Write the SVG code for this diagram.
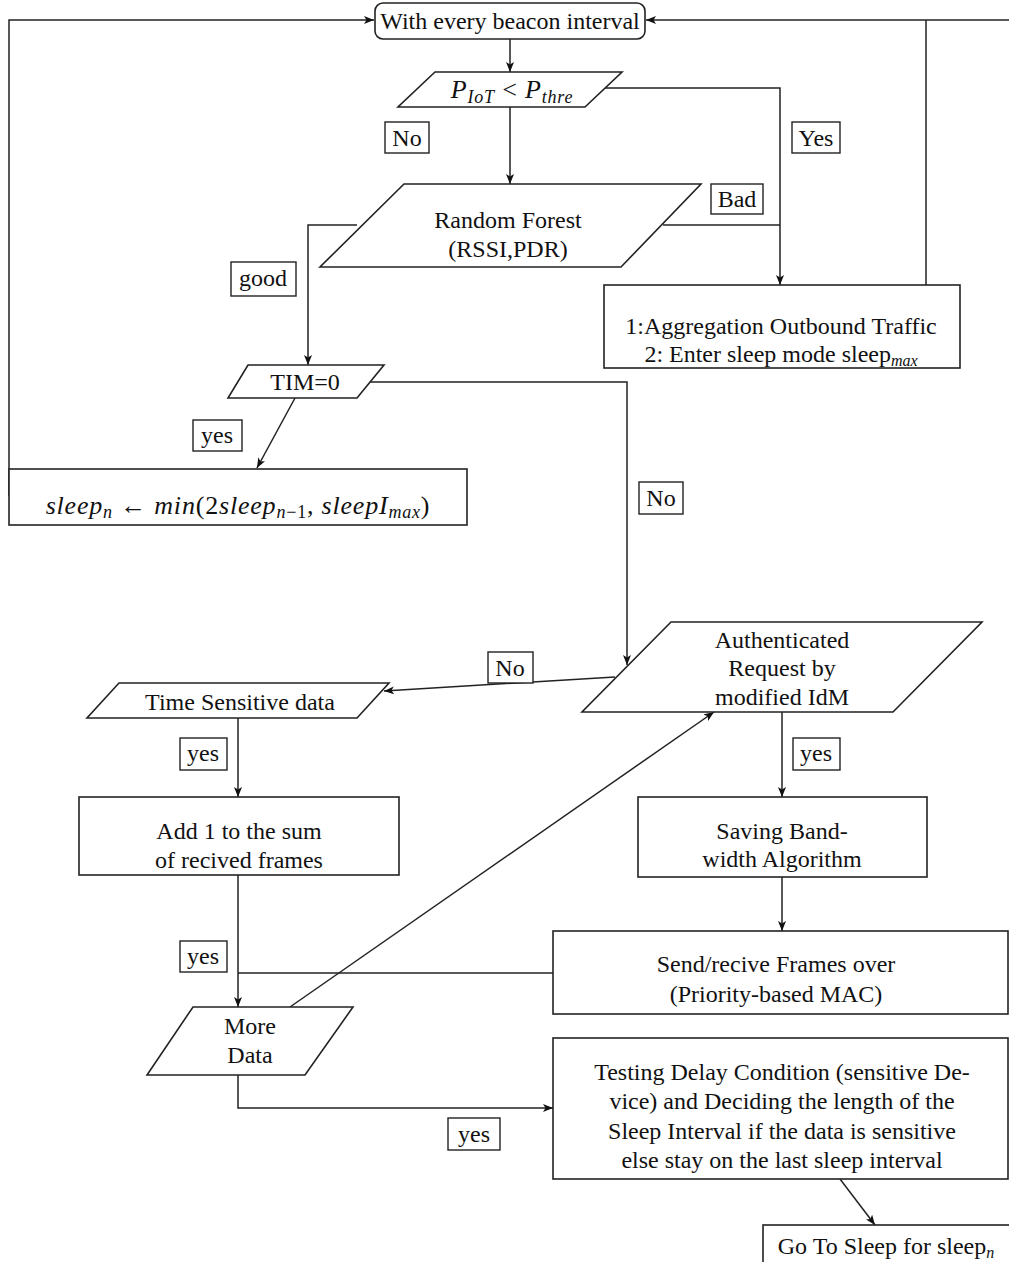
<svg xmlns="http://www.w3.org/2000/svg" width="1009" height="1262" viewBox="0 0 1009 1262">
<defs>
<marker id="ah" markerWidth="10" markerHeight="8" refX="10" refY="4" orient="auto" markerUnits="userSpaceOnUse">
<path d="M0,0 L10,4 L0,8 L2.5,4 Z" fill="#111"/>
</marker>
<style>
.n{fill:#fff;stroke:#222;stroke-width:1.6}
.c{fill:none;stroke:#222;stroke-width:1.5}
.a{marker-end:url(#ah)}
text{font-family:"Liberation Serif","Times New Roman",serif;font-size:24px;fill:#111;text-anchor:middle}
.lb{fill:#fff;stroke:#222;stroke-width:1.4}
.i{font-style:italic}
.s{font-size:16px}
.m{font-size:26px;letter-spacing:0.8px}
.ms{font-size:18px}
</style>
</defs>
<rect width="1009" height="1262" fill="#fff"/>
<g id="connectors">
<path class="c a" d="M510,39 L510,72"/>
<path class="c a" d="M605,88 L780,88 L780,285"/>
<path class="c a" d="M510,107 L510,184"/>
<path class="c a" d="M357,225 L308,225 L308,365"/>
<path class="c" d="M663,225 L780,225"/>
<path class="c" d="M926,285 L926,20"/>
<path class="c a" d="M1009,20 L646,20"/>
<path class="c a" d="M370,382 L627,382 L627,665"/>
<path class="c a" d="M295,398 L257,468"/>
<path class="c a" d="M9,496 L9,20 L374,20"/>
<path class="c a" d="M615,677 L384,691"/>
<path class="c a" d="M238,718 L238,797"/>
<path class="c a" d="M782,712 L782,797"/>
<path class="c a" d="M238,875 L238,1007"/>
<path class="c a" d="M782,877 L782,931"/>
<path class="c" d="M553,973 L238,973"/>
<path class="c a" d="M290,1007 L714,712"/>
<path class="c a" d="M238,1075 L238,1108 L553,1108"/>
<path class="c a" d="M840,1179 L875,1225"/>
</g>
<g id="start">
<rect class="n" x="375" y="3" width="270" height="36" rx="8"/>
<text x="510" y="29">With every beacon interval</text>
</g>
<g id="piot">
<polygon class="n" points="435,72 622,72 585,107 398,107"/>
<text x="512" y="98" class="m"><tspan class="i">P</tspan><tspan class="i ms" dy="5">IoT</tspan><tspan dy="-5"> &lt; </tspan><tspan class="i">P</tspan><tspan class="i ms" dy="5">thre</tspan></text>
</g>
<g id="rf">
<polygon class="n" points="404,184 701,184 621,267 320,267"/>
<text x="508" y="228">Random Forest</text>
<text x="508" y="257">(RSSI,PDR)</text>
</g>
<g id="agg">
<rect class="n" x="604" y="285" width="356" height="83"/>
<text x="781" y="334">1:Aggregation Outbound Traffic</text>
<text x="781" y="362">2:  Enter sleep mode sleep<tspan class="i s" dy="4">max</tspan></text>
</g>
<g id="tim">
<polygon class="n" points="248,365 384,365 357,398 228,398"/>
<text x="305" y="390">TIM=0</text>
</g>
<g id="sleepn">
<rect class="n" x="9" y="469" width="458" height="56"/>
<text x="238" y="514" class="m"><tspan class="i">sleep</tspan><tspan class="i ms" dy="4">n</tspan><tspan dy="-4"> ← </tspan><tspan class="i">min</tspan><tspan>(2</tspan><tspan class="i">sleep</tspan><tspan class="i ms" dy="4">n</tspan><tspan class="ms">−1</tspan><tspan dy="-4">, </tspan><tspan class="i">sleepI</tspan><tspan class="i ms" dy="4">max</tspan><tspan dy="-4">)</tspan></text>
</g>
<g id="auth">
<polygon class="n" points="671,622 982,622 893,712 582,712"/>
<text x="782" y="648">Authenticated</text>
<text x="782" y="676">Request by</text>
<text x="782" y="705">modified IdM</text>
</g>
<g id="tsd">
<polygon class="n" points="119,683 389,683 357,718 87,718"/>
<text x="240" y="710">Time Sensitive data</text>
</g>
<g id="add">
<rect class="n" x="79" y="797" width="320" height="78"/>
<text x="239" y="839">Add 1 to the sum</text>
<text x="239" y="868">of recived frames</text>
</g>
<g id="saving">
<rect class="n" x="638" y="797" width="289" height="80"/>
<text x="782" y="839">Saving Band-</text>
<text x="782" y="867">width Algorithm</text>
</g>
<g id="send">
<rect class="n" x="553" y="931" width="455" height="83"/>
<text x="776" y="972">Send/recive Frames over</text>
<text x="776" y="1002">(Priority-based MAC)</text>
</g>
<g id="more">
<polygon class="n" points="193,1007 353,1007 305,1075 147,1075"/>
<text x="250" y="1034">More</text>
<text x="250" y="1063">Data</text>
</g>
<g id="testing">
<rect class="n" x="553" y="1038" width="455" height="141"/>
<text x="782" y="1080">Testing Delay Condition (sensitive De-</text>
<text x="782" y="1109">vice) and Deciding the length of the</text>
<text x="782" y="1139">Sleep Interval if the data is sensitive</text>
<text x="782" y="1168">else stay on the last sleep interval</text>
</g>
<g id="gosleep">
<rect class="n" x="763" y="1225" width="260" height="45"/>
<text x="886" y="1254">Go To Sleep for sleep<tspan class="i s" dy="4">n</tspan></text>
</g>
<g id="labels">
<rect class="lb" x="385" y="122" width="44" height="31"/><text x="407" y="146">No</text>
<rect class="lb" x="792" y="122" width="48" height="31"/><text x="816" y="146">Yes</text>
<rect class="lb" x="711" y="184" width="52" height="30"/><text x="737" y="207">Bad</text>
<rect class="lb" x="231" y="262" width="65" height="34"/><text x="263" y="286">good</text>
<rect class="lb" x="193" y="420" width="49" height="31"/><text x="217" y="443">yes</text>
<rect class="lb" x="639" y="482" width="44" height="32"/><text x="661" y="506">No</text>
<rect class="lb" x="488" y="652" width="45" height="31"/><text x="510" y="676">No</text>
<rect class="lb" x="180" y="738" width="47" height="32"/><text x="203" y="761">yes</text>
<rect class="lb" x="793" y="738" width="47" height="32"/><text x="816" y="761">yes</text>
<rect class="lb" x="180" y="941" width="47" height="31"/><text x="203" y="964">yes</text>
<rect class="lb" x="448" y="1118" width="52" height="32"/><text x="474" y="1142">yes</text>
</g>
</svg>
